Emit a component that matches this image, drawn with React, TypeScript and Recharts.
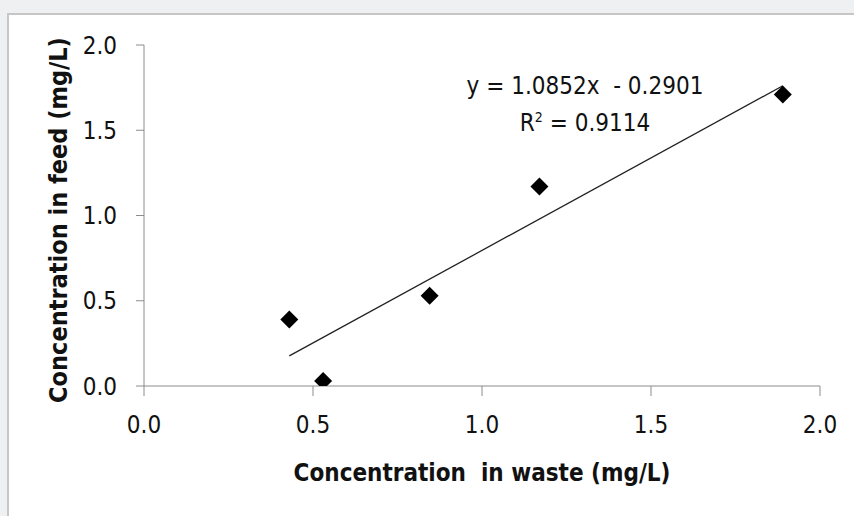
import { ComposedChart, Line, Scatter, XAxis, YAxis } from "recharts";

const wasteConc = [0.43, 0.53, 0.845, 1.17, 1.89];
const feedConc = [0.39, 0.03, 0.53, 1.17, 1.71];
const xTicks = [0, 0.5, 1, 1.5, 2];
const yTicks = [0, 0.5, 1, 1.5, 2];
const slope = 1.0852;
const intercept = -0.2901;
const rSquared = "0.9114";

const points = wasteConc.map((x, i) => ({ x, y: feedConc[i] }));
const xMin = Math.min(...wasteConc);
const xMax = Math.max(...wasteConc);
const trend = [xMin, xMax].map((x) => ({ x, y: slope * x + intercept }));

const FONT = "'Liberation Sans Narrow', 'DejaVu Sans Condensed', 'Liberation Sans', sans-serif";

const Diamond = (props: any) => {
    const { cx, cy } = props;
    const r = 9;
    return <polygon points={`${cx},${cy - r} ${cx + r},${cy} ${cx},${cy + r} ${cx - r},${cy}`} fill="#000" />;
};

const App = () => (
    <div style={{ position: "absolute", left: 0, top: 0, width: 854, height: 516, background: "#eef0f2", overflow: "hidden" }}>
        <div
            style={{
                position: "absolute",
                left: 7,
                top: 13,
                width: 860,
                height: 520,
                background: "#fff",
                borderTop: "2px solid #c6c6c6",
                borderLeft: "2px solid #c6c6c6",
            }}
        />
        <div style={{ position: "absolute", left: 0, top: 0 }}>
            <ComposedChart width={854} height={516} margin={{ top: 45, right: 34, left: 0, bottom: 0 }}>
                <XAxis
                    type="number"
                    dataKey="x"
                    domain={[0, 2]}
                    ticks={xTicks}
                    tickFormatter={(v) => v.toFixed(1)}
                    height={130}
                    stroke="#8c8c8c"
                    tickSize={10}
                    tickMargin={20}
                    tick={{ fill: "#111", fontSize: 24, fontFamily: FONT }}
                    allowDataOverflow
                />
                <YAxis
                    type="number"
                    dataKey="y"
                    domain={[0, 2]}
                    ticks={yTicks}
                    tickFormatter={(v) => v.toFixed(1)}
                    width={144}
                    stroke="#8c8c8c"
                    tickSize={8}
                    tickMargin={19}
                    tick={{ fill: "#111", fontSize: 24, fontFamily: FONT }}
                    allowDataOverflow
                />
                <Line data={trend} dataKey="y" stroke="#222" strokeWidth={1.3} dot={false} isAnimationActive={false} />
                <Scatter data={points} dataKey="y" shape={<Diamond />} isAnimationActive={false} />
            </ComposedChart>
        </div>
        <div
            style={{
                position: "absolute",
                left: 482,
                top: 473,
                transform: "translate(-50%, -50%)",
                whiteSpace: "pre",
                fontFamily: FONT,
                fontWeight: "bold",
                fontSize: 24,
                color: "#111",
            }}
        >
            {"Concentration  in waste (mg/L)"}
        </div>
        <div
            style={{
                position: "absolute",
                left: 58,
                top: 220,
                transform: "translate(-50%, -50%) rotate(-90deg)",
                whiteSpace: "pre",
                fontFamily: FONT,
                fontWeight: "bold",
                fontSize: 25,
                color: "#111",
            }}
        >
            Concentration in feed (mg/L)
        </div>
        <div
            style={{
                position: "absolute",
                left: 585,
                top: 105,
                transform: "translate(-50%, -50%)",
                whiteSpace: "pre",
                fontFamily: FONT,
                fontSize: 24,
                color: "#111",
                textAlign: "center",
                lineHeight: "37px",
            }}
        >
            {"y = 1.0852x  - 0.2901\n"}
            R<sup style={{ fontSize: 14, verticalAlign: "top", lineHeight: "24px" }}>2</sup>
            {" = " + rSquared}
        </div>
    </div>
);

export default App;
